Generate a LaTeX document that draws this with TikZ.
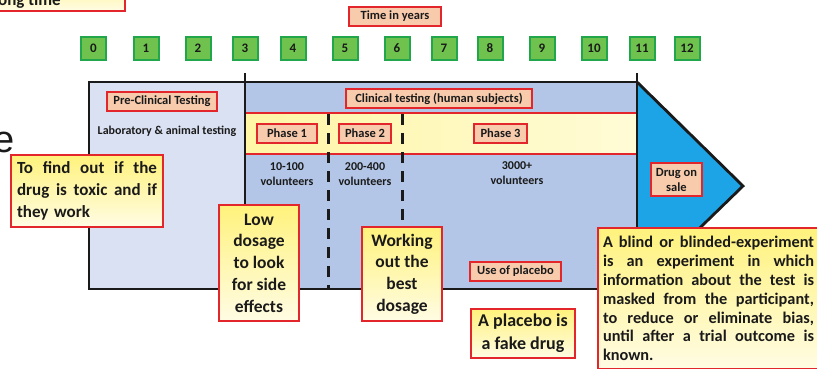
\documentclass[tikz,border=0pt]{standalone}
\usepackage{fontspec}
\setmainfont{Carlito}
\newfontfamily\bigsans{Liberation Sans}
\usetikzlibrary{positioning}

\definecolor{ink}{HTML}{1A1A1A}
\definecolor{preblue}{HTML}{DAE1F2}
\definecolor{clinblue}{HTML}{B3C6E7}
\definecolor{saleblue}{HTML}{1CA4E6}
\definecolor{labfill}{HTML}{F8CBAD}
\definecolor{boxred}{HTML}{E2262C}
\definecolor{yeltop}{HTML}{FFF27C}
\definecolor{yelbot}{HTML}{FFFCE4}
\definecolor{bandl}{HTML}{FFF6A6}
\definecolor{bandr}{HTML}{FFFBD6}
\definecolor{yrgreen}{HTML}{70C24E}
\definecolor{yrgreenD}{HTML}{22A64C}

% one justified line of a given width
\newcommand{\jl}[2]{\makebox[#1][s]{\spaceskip=.25em plus 1fil\relax #2}}

\begin{document}
\begin{tikzpicture}[x=1pt,y=-1pt,
	lbl/.style={draw=boxred,fill=labfill,line width=1.8pt,inner sep=0pt,align=center,text=ink,font=\fontsize{12.5}{15}\selectfont\bfseries},
	yrbox/.style={draw=yrgreenD,fill=yrgreen,line width=2pt,inner sep=0pt,minimum width=25pt,minimum height=23pt,text=ink,font=\fontsize{13}{15}\selectfont\bfseries},
	note/.style={draw=boxred,top color=yeltop,bottom color=yelbot,line width=2pt,inner sep=0pt,align=center,text=ink,font=\fontsize{17.5}{21.7}\selectfont\bfseries},
	vol/.style={align=center,inner sep=0pt,text=ink,font=\fontsize{12}{15}\selectfont\bfseries},
	frame/.style={line width=2.8pt,draw=ink},
	redline/.style={line width=2.6pt,draw=boxred},
	phasecut/.style={line width=3pt,draw=ink,dash pattern=on 11pt off 8pt}]
	\useasboundingbox (0,0) rectangle (817,368);
	\clip (0,0) rectangle (817,368);
	\fill[white] (0,0) rectangle (817,368);

	% corners of the chart
	\coordinate (tl) at (89,82);
	\coordinate (br) at (637,289);
	\coordinate (split) at (245,82);
	\coordinate (tip) at (743,186);

	% cut-off bits at the left edge
	\node[note,anchor=south east,minimum width=150pt,minimum height=40pt] (longbox) at (126,12) {};
	\node[anchor=base west,inner sep=0pt,text=ink,font=\fontsize{17}{20}\selectfont\bfseries] (longtxt) at (-2,5) {ong time};
	\node[anchor=base west,inner sep=0pt,text=ink,font=\bigsans\fontsize{38}{40}\selectfont] (cute) at (-7,152) {e};

	% time line
	\node[lbl,minimum width=92pt,minimum height=19pt] (years) at (395,16.5) {Time in years};
	\foreach \n/\x in {0/93.5,1/146,2/198,3/245,4/293,5/345,6/397,7/444,8/490,9/542,10/594,11/642,12/687}
		\node[yrbox] (y\n) at (\x,48.5) {\n};

	% chart body
	\fill[preblue] (tl) rectangle (245,289);
	\fill[clinblue] (split) rectangle (br);
	\shade[left color=bandl,right color=bandr] (245,113) rectangle (637,154);
	\draw[redline] (245,113) -- (637,113);
	\draw[redline] (245,154) -- (637,154);
	\filldraw[frame,fill=saleblue,line join=miter] (637,82) -- (tip) -- (637,289);
	\draw[frame] (tl) rectangle (br);
	\draw[frame] (245,73) -- (245,289);
	\draw[frame] (637,73) -- (637,289);
	\draw[phasecut] (328,114) -- (328,289);
	\draw[phasecut] (402,114) -- (402,289);

	% labels
	\node[lbl,minimum width=110pt,minimum height=19pt] (pre) at (162,101.5) {Pre-Clinical Testing};
	\node[vol] (lab) at (167,131) {Laboratory \& animal testing};
	\node[lbl,minimum width=186pt,minimum height=19pt] (clin) at (439,98.5) {Clinical testing (human subjects)};
	\node[lbl,minimum width=60pt,minimum height=19pt] (ph1) at (287,133.5) {Phase 1};
	\node[lbl,minimum width=52pt,minimum height=19pt] (ph2) at (365,133.5) {Phase 2};
	\node[lbl,minimum width=53pt,minimum height=19pt] (ph3) at (500.5,133.5) {Phase 3};
	\node[vol] (vol1) at (287,174.5) {10-100\\volunteers};
	\node[vol] (vol2) at (365,174.5) {200-400\\volunteers};
	\node[vol] (vol3) at (517,173.5) {3000+\\volunteers};
	\node[lbl,minimum width=51pt,minimum height=33pt] (sale) at (676.5,179.5) {Drug on\\sale};
	\node[lbl,minimum width=91pt,minimum height=19pt] (placebo) at (515.5,271.5) {Use of placebo};

	% notes
	\node[note,minimum width=152pt,minimum height=72pt,text width=140pt,align=left,font=\fontsize{17}{22}\selectfont\bfseries] (toxic) at (87,191)
		{\jl{140pt}{To find out if the}\\\jl{140pt}{drug is toxic and if}\\they work};
	\node[note,minimum width=80pt,minimum height=116pt] (low) at (259,263) {Low\\dosage\\to look\\for side\\effects};
	\node[note,minimum width=80pt,minimum height=94pt] (work) at (402,274) {Working\\out the\\best\\dosage};
	\node[note,minimum width=104pt,minimum height=49pt,font=\fontsize{18}{23}\selectfont\bfseries] (fake) at (523,333.5) {A placebo is\\a fake drug};
	\node[note,anchor=north west,text width=215pt,inner xsep=5pt,inner ysep=8pt,align=left,font=\fontsize{16.3}{18.9}\selectfont\bfseries] (blind) at (597,227)
		{\jl{211pt}{A blind or blinded-experiment}\\
		 \jl{211pt}{is an experiment in which}\\
		 \jl{211pt}{information about the test is}\\
		 \jl{211pt}{masked from the participant,}\\
		 \jl{211pt}{to reduce or eliminate bias,}\\
		 \jl{211pt}{until after a trial outcome is}\\
		 known.};
\end{tikzpicture}
\end{document}
